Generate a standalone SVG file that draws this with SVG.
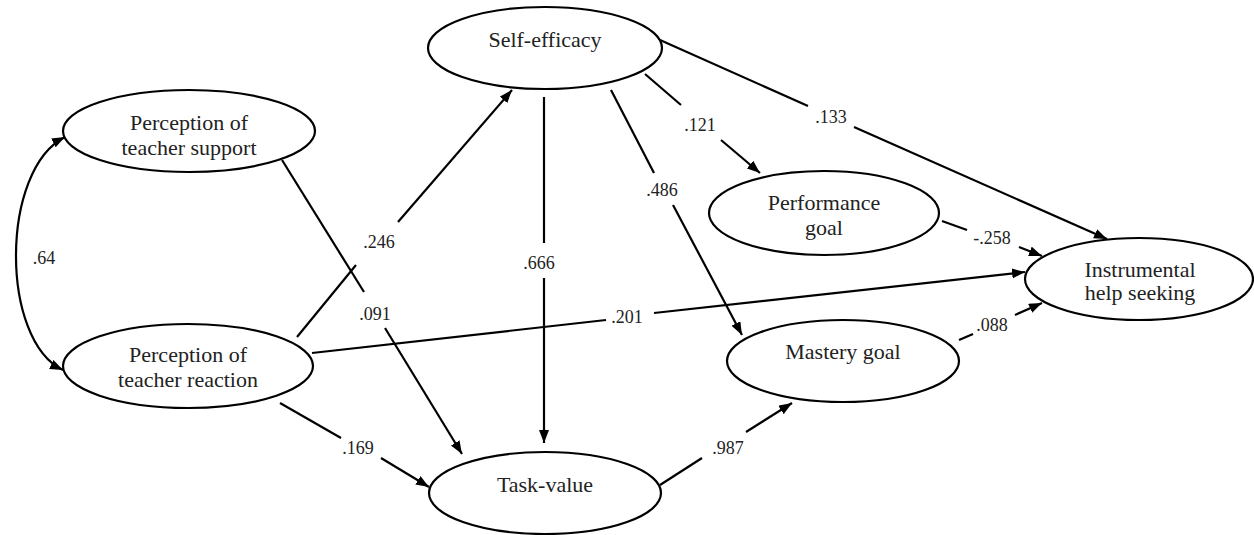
<svg xmlns="http://www.w3.org/2000/svg" width="1254" height="535" viewBox="0 0 1254 535">
  <defs>
    <marker id="arr" markerUnits="userSpaceOnUse" markerWidth="14" markerHeight="11" refX="13" refY="5" orient="auto-start-reverse">
      <path d="M0,0 L13,5 L0,10 Z" fill="#000"/>
    </marker>
    <style>
      .node ellipse { fill: #fff; stroke: #000; stroke-width: 2.2; }
      .node text { font-family: "Liberation Serif", "Times New Roman", serif; font-size: 22px; fill: #222; text-anchor: middle; }
      .edges path { fill: none; stroke: #000; stroke-width: 2.2; }
      .edges .a { marker-end: url(#arr); }
      .lbl { font-family: "Liberation Serif", "Times New Roman", serif; font-size: 18px; fill: #222; text-anchor: middle; }
    </style>
  </defs>
  <rect width="1254" height="535" fill="#fff"/>

  <g class="edges">
    <!-- .64 correlation -->
    <path d="M63,370 C0,340 0,170 65,137" marker-start="url(#arr)" marker-end="url(#arr)"/>
    <!-- .246 -->
    <path d="M297,337 L356,265"/>
    <path class="a" d="M398,222 L512,90"/>
    <!-- .091 -->
    <path d="M282,160 L364,292"/>
    <path class="a" d="M385,328 L462,454"/>
    <!-- .666 -->
    <path d="M544,97 L544,243"/>
    <path class="a" d="M544,278 L544,443"/>
    <!-- .169 -->
    <path d="M280,403 L341,438"/>
    <path class="a" d="M381,458 L429,487"/>
    <!-- .201 -->
    <path d="M312,353 L606,320"/>
    <path class="a" d="M654,313 L1025,272"/>
    <!-- .121 -->
    <path d="M645,74 L681,105"/>
    <path class="a" d="M721,140 L760,173"/>
    <!-- .133 -->
    <path d="M660,40 L808,106"/>
    <path class="a" d="M854,127 L1107,239"/>
    <!-- .486 -->
    <path d="M611,90 L654,173"/>
    <path class="a" d="M673,205 L742,335"/>
    <!-- -.258 -->
    <path d="M942,221 L967,230"/>
    <path class="a" d="M1019,247 L1042,256"/>
    <!-- .088 -->
    <path d="M959,340 L973,334"/>
    <path class="a" d="M1015,315 L1042,303"/>
    <!-- .987 -->
    <path d="M660,485 L702,458"/>
    <path class="a" d="M746,432 L792,403"/>
  </g>

  <g class="labels">
    <text class="lbl" x="44" y="264">.64</text>
    <text class="lbl" x="379" y="248">.246</text>
    <text class="lbl" x="375" y="320">.091</text>
    <text class="lbl" x="539" y="269">.666</text>
    <text class="lbl" x="358" y="454">.169</text>
    <text class="lbl" x="627" y="323">.201</text>
    <text class="lbl" x="700" y="131">.121</text>
    <text class="lbl" x="831" y="123">.133</text>
    <text class="lbl" x="662" y="196">.486</text>
    <text class="lbl" x="992" y="244">-.258</text>
    <text class="lbl" x="992" y="331">.088</text>
    <text class="lbl" x="728" y="454">.987</text>
  </g>

  <g id="self-efficacy" class="node">
    <ellipse cx="545" cy="48" rx="117" ry="41"/>
    <text x="545" y="47">Self-efficacy</text>
  </g>
  <g id="teacher-support" class="node">
    <ellipse cx="189" cy="131" rx="126" ry="41"/>
    <text x="189" y="130">Perception of</text>
    <text x="189" y="155">teacher support</text>
  </g>
  <g id="teacher-reaction" class="node">
    <ellipse cx="188" cy="366" rx="125" ry="42"/>
    <text x="188" y="362">Perception of</text>
    <text x="188" y="387">teacher reaction</text>
  </g>
  <g id="task-value" class="node">
    <ellipse cx="545" cy="493" rx="116" ry="41"/>
    <text x="545" y="492">Task-value</text>
  </g>
  <g id="performance-goal" class="node">
    <ellipse cx="824" cy="213" rx="115" ry="42"/>
    <text x="824" y="210">Performance</text>
    <text x="824" y="235">goal</text>
  </g>
  <g id="mastery-goal" class="node">
    <ellipse cx="843" cy="361" rx="116" ry="41"/>
    <text x="843" y="359">Mastery goal</text>
  </g>
  <g id="help-seeking" class="node">
    <ellipse cx="1139" cy="279" rx="114" ry="41"/>
    <text x="1140" y="277">Instrumental</text>
    <text x="1140" y="300">help seeking</text>
  </g>
</svg>
